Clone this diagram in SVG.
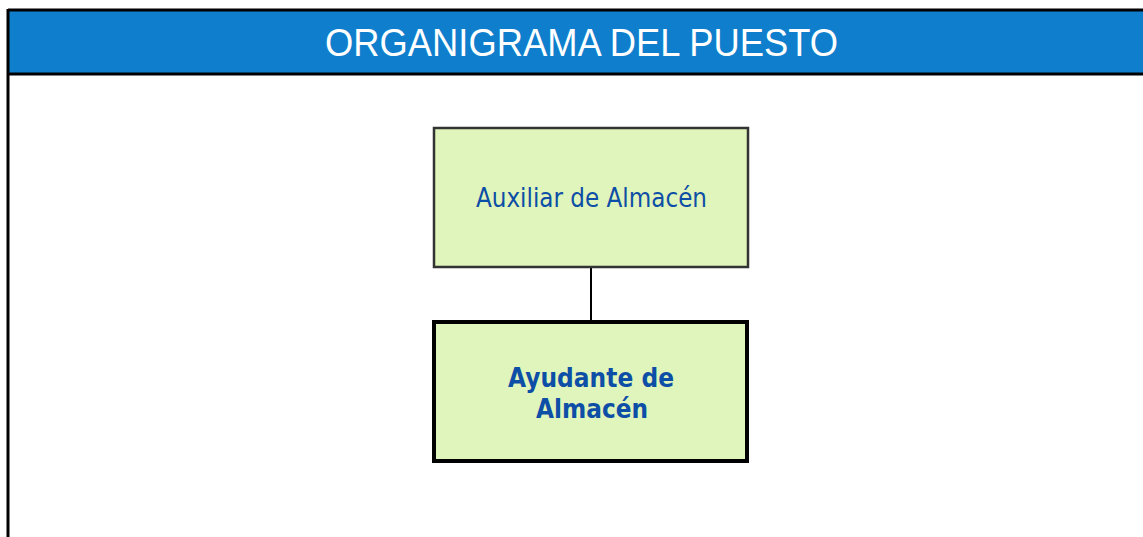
<svg xmlns="http://www.w3.org/2000/svg" width="1143" height="537" viewBox="0 0 1143 537">
<style>
.node{fill:#e0f5bb}
.lbl{font-family:"DejaVu Sans",Verdana,sans-serif;fill:#0d4ea6;text-anchor:middle}
</style>
<rect width="1143" height="537" fill="#ffffff"/>
<g id="frame">
<rect x="8" y="10" width="1140" height="64" fill="#0f7fcd"/>
<line x1="8" y1="10" x2="1143" y2="10" stroke="#000" stroke-width="3"/>
<line x1="8" y1="74" x2="1143" y2="74" stroke="#000" stroke-width="3"/>
<line x1="8" y1="9" x2="8" y2="537" stroke="#000" stroke-width="3"/>
<text x="581.5" y="56" font-family="Liberation Sans,Arial,sans-serif" font-size="38" fill="#ffffff" text-anchor="middle" textLength="513" lengthAdjust="spacingAndGlyphs">ORGANIGRAMA DEL PUESTO</text>
</g>
<g id="connectors">
<line x1="591" y1="268" x2="591" y2="322" stroke="#000" stroke-width="2"/>
</g>
<g id="n1">
<rect class="node" x="434" y="128" width="314" height="139" stroke="#333" stroke-width="2.5"/>
<text class="lbl" x="591.5" y="207" font-size="26" textLength="231" lengthAdjust="spacingAndGlyphs">Auxiliar de Almacén</text>
</g>
<g id="n2">
<rect class="node" x="434" y="322" width="313" height="139" stroke="#000" stroke-width="4"/>
<text class="lbl" x="591" y="387" font-size="26" font-weight="bold" textLength="166" lengthAdjust="spacingAndGlyphs">Ayudante de</text>
<text class="lbl" x="592" y="418" font-size="26" font-weight="bold" textLength="112" lengthAdjust="spacingAndGlyphs">Almacén</text>
</g>
</svg>
